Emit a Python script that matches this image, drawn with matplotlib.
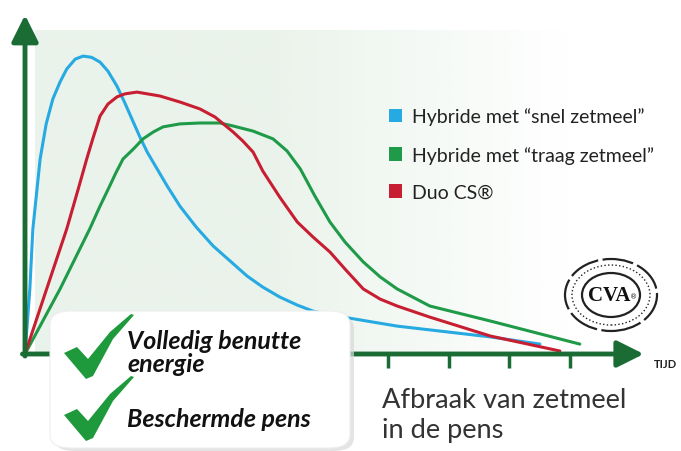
import numpy as np
import matplotlib
matplotlib.use("Agg")
import matplotlib.pyplot as plt
from matplotlib.patches import Patch, FancyBboxPatch, Polygon, Ellipse

# tijd (arbitraire eenheden) en afbraak (%)
t_snel = [0, 0.08, 0.13, 0.25, 0.35, 0.46, 0.58, 0.69, 0.83, 0.96, 1.10, 1.24, 1.37, 1.52,
          1.65, 1.79, 1.90, 2.02, 2.35, 2.56, 2.83, 3.11, 3.39, 3.67, 3.93, 4.21, 4.50,
          4.76, 5.26, 6.15, 7.69, 8.51]
v_snel = [0, 21.7, 41.7, 65, 76.7, 85, 90.7, 95, 98.3, 99.3, 98.9, 97.3, 94.3, 89.3,
          83.7, 77.3, 72.3, 67.3, 56, 49.3, 42.3, 36, 31, 26, 22.3, 19, 16.3,
          14.3, 12.3, 9.3, 5.7, 3.3]

t_traag = [0, 0.58, 1.07, 1.24, 1.40, 1.50, 1.62, 1.79, 1.95, 2.12, 2.28, 2.56, 2.89, 3.22,
           3.44, 3.77, 4.10, 4.33, 4.55, 4.79, 5.04, 5.29, 5.59, 5.87, 6.15, 6.69, 7.69, 9.17]
v_traag = [0, 21.7, 41.7, 49.3, 56, 60.3, 65, 68.3, 71.7, 74, 75.7, 76.7, 77, 77,
           76, 74.3, 71.7, 67.7, 61.7, 52.7, 44, 37.3, 30.7, 25.7, 21.7, 16, 11, 3.3]

t_duo = [0, 0.33, 0.69, 0.88, 1.02, 1.12, 1.24, 1.37, 1.52, 1.65, 1.85, 2.23, 2.56, 2.89,
         3.14, 3.44, 3.60, 3.77, 3.93, 4.21, 4.50, 4.76, 5.04, 5.29, 5.59, 5.87, 6.15,
         6.69, 7.69, 8.84]
v_duo = [0, 20, 41.7, 55, 65, 71.7, 79.3, 83.3, 85.7, 86.7, 87.3, 86, 84, 81.7,
         79, 74, 71, 67.3, 61, 52.3, 44, 39, 34, 28.3, 21.7, 18.3, 16,
         12.3, 6, 1]

labels = ["Hybride met \u201csnel zetmeel\u201d", "Hybride met \u201ctraag zetmeel\u201d", "Duo CS\u00ae"]
colors = ["#27a9e1", "#1e9a48", "#c81e32"]
ticks = [6, 7, 8, 9]

W, H = 681, 452
AXC = "#1b6b35"

def fx(x):
    return x / W

def fy(y):
    return 1 - y / H

fig = plt.figure(figsize=(W / 100, H / 100), dpi=100)
ax = fig.add_axes([fx(25), fy(355), (650 - 25) / W, (355 - 16) / H])
ax.set_xlim(0, 10.33)
ax.set_ylim(0, 113)
for s in ax.spines.values():
    s.set_visible(False)
ax.set_yticks([])
ax.set_xticks(ticks)
ax.set_xticklabels([])
ax.tick_params(axis="x", direction="out", length=10, width=2.5, color=AXC)

# lichtgroene achtergrond met verloop naar wit
nx = 200
alpha = np.clip((9.0 - np.linspace(0.17, 10.33, nx)) / 5.0, 0, 1)
img = np.ones((2, nx, 4))
img[..., 0] = 234 / 255
img[..., 1] = 243 / 255
img[..., 2] = 235 / 255
img[..., 3] = alpha
ax.imshow(img, extent=[0.17, 10.33, 0, 107.7], aspect="auto", zorder=0, interpolation="bilinear")

for t, v, c in [(t_snel, v_snel, colors[0]), (t_traag, v_traag, colors[1]), (t_duo, v_duo, colors[2])]:
    ax.plot(t, v, color=c, lw=2.2, zorder=3, solid_capstyle="round", solid_joinstyle="round")

# assen met pijlen
arr = dict(arrowstyle="-|>,head_length=0.9,head_width=0.45", lw=3.5, color=AXC,
           shrinkA=0, shrinkB=0, mutation_scale=18)
ax.annotate("", xy=(0, 1), xytext=(0, -0.006), xycoords="axes fraction",
            arrowprops=arr, annotation_clip=False)
ax.annotate("", xy=(0.99, 0), xytext=(-0.004, 0), xycoords="axes fraction",
            arrowprops=arr, annotation_clip=False)
fig.text(fx(654), fy(364), "TIJD", fontsize=8, color="#222222", va="center", ha="left",
         family="Lato", weight="bold")

# legende
handles = [Patch(facecolor=c, edgecolor="none") for c in colors]
fig.legend(handles, labels, loc="upper left", bbox_to_anchor=(fx(371), fy(91)),
           frameon=False, handlelength=0.7, handleheight=0.7, handletextpad=0.5,
           labelspacing=1.05, prop=dict(family="Lato", size=14), labelcolor="#222222")

# x-as tekst
fig.text(fx(382), fy(408), "Afbraak van zetmeel", fontsize=19.6, family="Lato",
         color="#333333", va="baseline")
fig.text(fx(382), fy(438), "in de pens", fontsize=19.6, family="Lato",
         color="#333333", va="baseline")

# kader met vinkjes
shadow = FancyBboxPatch((fx(54), fy(452)), fx(300), fy(316) - fy(452),
                        boxstyle="round,pad=0,rounding_size=0.03",
                        transform=fig.transFigure, facecolor="#d9d9d9", edgecolor="none",
                        alpha=0.7, zorder=5)
fig.add_artist(shadow)
box = FancyBboxPatch((fx(50), fy(449)), fx(300), fy(312) - fy(449),
                     boxstyle="round,pad=0,rounding_size=0.03",
                     transform=fig.transFigure, facecolor="white", edgecolor="#eeeeee",
                     lw=0.8, zorder=6)
fig.add_artist(box)

def check(dy):
    pts = [(64, 354), (77, 348), (88, 360), (110, 333), (131, 315), (134, 316),
           (113, 340), (93, 377), (86, 380)]
    return Polygon([(fx(x), fy(y + dy)) for x, y in pts], closed=True,
                   transform=fig.transFigure, facecolor="#1e9a3c", edgecolor="none", zorder=7)

fig.add_artist(check(0))
fig.add_artist(check(62))
fig.text(fx(127), fy(349), "Volledig benutte", fontsize=18, family="Lato",
         weight="bold", style="italic", color="#111111", va="baseline", zorder=8)
fig.text(fx(127), fy(372), "energie", fontsize=18, family="Lato",
         weight="bold", style="italic", color="#111111", va="baseline", zorder=8)
fig.text(fx(127), fy(427), "Beschermde pens", fontsize=18, family="Lato",
         weight="bold", style="italic", color="#111111", va="baseline", zorder=8)

# CVA logo
cx, cy = fx(611), fy(296)
for w, h, ls, lw in [(92, 72, (0, (14, 2)), 1.6), (78, 60, ":", 1.0), (58, 44, "-", 1.6)]:
    fig.add_artist(Ellipse((cx, cy), fx(w), fy(0) - fy(h), transform=fig.transFigure,
                           facecolor="none", edgecolor="#222222", lw=lw, ls=ls, zorder=4))
fig.text(cx - 0.002, cy, "CVA", fontsize=15, family="Liberation Serif", weight="bold",
         color="#111111", ha="center", va="center", zorder=5)
fig.text(cx + fx(23), cy - 0.004, "\u00ae", fontsize=5, color="#111111",
         ha="center", va="center", zorder=5)

fig.savefig("out.png", dpi=100)
